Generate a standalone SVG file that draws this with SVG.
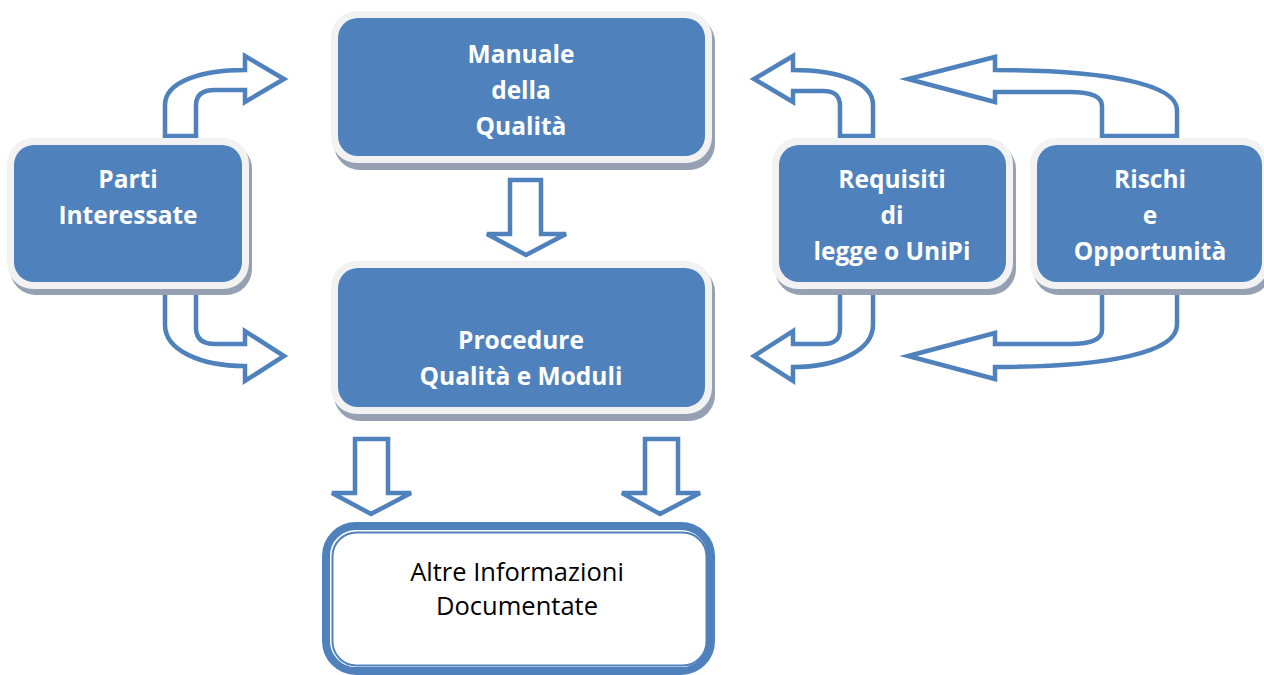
<svg xmlns="http://www.w3.org/2000/svg" width="1264" height="675" viewBox="0 0 1264 675">
<defs>
<style>
.arr{fill:#ffffff;stroke:#4f81bd;stroke-width:4.5;stroke-linejoin:miter}
.shadow{fill:#95a1b3}
.frame{fill:#f2f2f2}
.blue{fill:#4f81bd}
.t{font-family:"Open Sans","Liberation Sans",sans-serif;font-weight:700;font-size:24.5px;fill:#ffffff;text-anchor:middle}
.r{font-family:"Open Sans","Liberation Sans",sans-serif;font-weight:400;font-size:25.5px;fill:#000000;text-anchor:middle}
</style>
</defs>
<rect width="1264" height="675" fill="#ffffff"/>
<g id="connectors">
<path class="arr" d="M165,136 L165,105 C165,82 200,70 245,70 L245,56 L284,79 L245,102 L245,90 L215,90 C202,90 196,95 196,105 L196,136 Z"/>
<path class="arr" d="M165,292 L165,325 C165,350 200,366 245,366 L245,381 L284,356 L245,331 L245,344 L215,344 C202,344 196,338 196,328 L196,292 Z"/>
<path class="arr" d="M873,136 L873,105 C873,82 838,70 793,70 L793,56 L754,79 L793,102 L793,91 L823,91 C835,91 840,96 840,106 L840,136 Z"/>
<path class="arr" d="M873,292 L873,325 C873,350 838,367 793,367 L793,381 L754,356 L793,331 L793,344 L823,344 C835,344 840,339 840,329 L840,292 Z"/>
<path class="arr" d="M1177,136 L1177,110 C1177,85 1110,70 995,70 L995,57 L908,79 L995,102 L995,92 L1070,92 C1090,92 1102,96 1102,106 L1102,136 Z"/>
<path class="arr" d="M1177,292 L1177,325 C1177,352 1110,367 995,367 L995,379 L908,356 L995,333 L995,344 L1070,344 C1090,344 1102,340 1102,330 L1102,292 Z"/>
<path class="arr" d="M510,180 L541,180 L541,234 L566,234 L526,255 L487,234 L510,234 Z"/>
<path class="arr" d="M355,439 L388,439 L388,493 L411,493 L371,514 L332,493 L355,493 Z"/>
<path class="arr" d="M645,439 L678,439 L678,493 L700,493 L660,514 L622,493 L645,493 Z"/>
</g>
<g id="parti">
<rect class="shadow" x="10" y="143" width="242" height="152" rx="26"/>
<rect class="frame" x="7" y="138" width="242" height="151" rx="26"/>
<rect class="blue" x="14" y="145" width="228" height="137" rx="20"/>
<text class="t" x="128" y="188">Parti</text>
<text class="t" x="128" y="224">Interessate</text>
</g>
<g id="manuale">
<rect class="shadow" x="334" y="16" width="381" height="154" rx="26"/>
<rect class="frame" x="331" y="11" width="381" height="152" rx="26"/>
<rect class="blue" x="338" y="18" width="367" height="138" rx="20"/>
<text class="t" x="521" y="63">Manuale</text>
<text class="t" x="521" y="99">della</text>
<text class="t" x="521" y="135">Qualità</text>
</g>
<g id="procedure">
<rect class="shadow" x="334" y="266" width="381" height="155" rx="26"/>
<rect class="frame" x="331" y="261" width="381" height="153" rx="26"/>
<rect class="blue" x="338" y="268" width="367" height="139" rx="20"/>
<text class="t" x="521" y="349">Procedure</text>
<text class="t" x="521" y="385">Qualità e Moduli</text>
</g>
<g id="requisiti">
<rect class="shadow" x="775" y="143" width="241" height="152" rx="26"/>
<rect class="frame" x="772" y="138" width="241" height="151" rx="26"/>
<rect class="blue" x="779" y="145" width="227" height="137" rx="20"/>
<text class="t" x="892" y="188">Requisiti</text>
<text class="t" x="892" y="224">di</text>
<text class="t" x="892" y="260">legge o UniPi</text>
</g>
<g id="rischi">
<rect class="shadow" x="1033" y="143" width="239" height="152" rx="26"/>
<rect class="frame" x="1030" y="138" width="239" height="151" rx="26"/>
<rect class="blue" x="1037" y="145" width="225" height="137" rx="20"/>
<text class="t" x="1150" y="188">Rischi</text>
<text class="t" x="1150" y="224">e</text>
<text class="t" x="1150" y="260">Opportunità</text>
</g>
<g id="altre">
<rect x="326" y="526" width="385" height="145" rx="30" fill="#ffffff" stroke="#4f81bd" stroke-width="8"/>
<rect x="332.5" y="532.5" width="374" height="133" rx="24" fill="none" stroke="#4f81bd" stroke-width="2"/>
<text class="r" x="517" y="581">Altre Informazioni</text>
<text class="r" x="517" y="615">Documentate</text>
</g>
</svg>
